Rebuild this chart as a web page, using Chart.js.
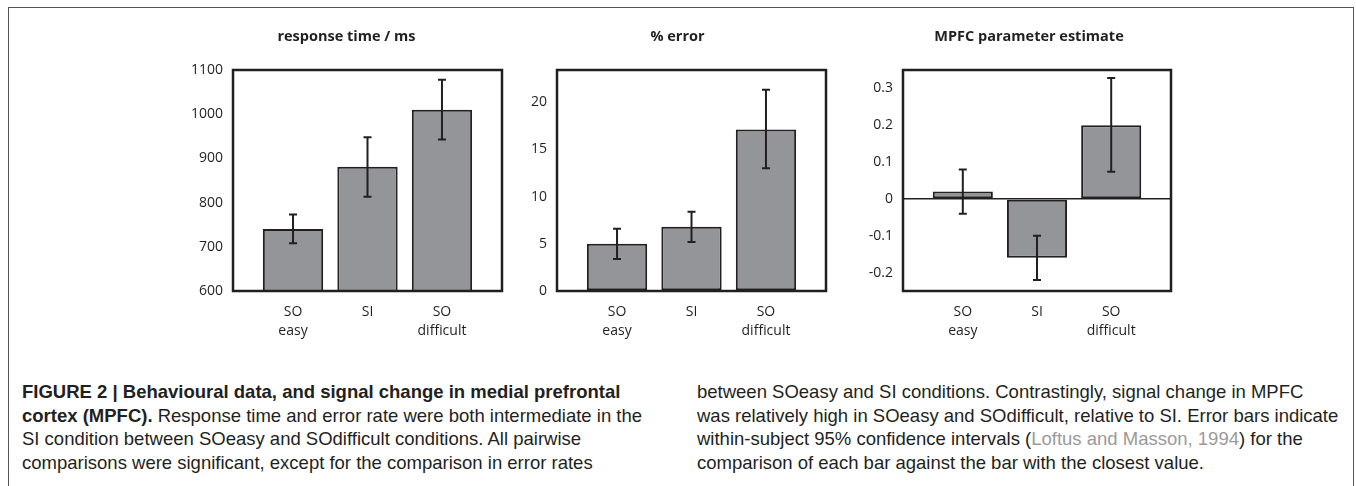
<!DOCTYPE html>
<html>
<head>
<meta charset="utf-8">
<script src="https://cdn.jsdelivr.net/npm/chart.js@4.4.0/dist/chart.umd.min.js"></script>
<style>
  body { margin: 0; background: #fff; width: 1356px; height: 486px; overflow: hidden; position: relative; }
  #frame { position: absolute; left: 8px; top: 7px; width: 1346px; height: 500px; border: 1px solid #555; box-sizing: border-box; }
  .panel { position: absolute; top: 0; }
  .caption { position: absolute; top: 380px; font-family: "Liberation Sans", Arial, sans-serif; font-size: 18.5px; line-height: 23.5px; color: #231f20; white-space: nowrap; }
  .ref { color: #9a9a9a; }
</style>
</head>
<body>
<div id="frame"></div>
<div class="panel" style="left:150px"><canvas id="rt" width="362" height="345"></canvas></div>
<div class="panel" style="left:480px"><canvas id="err" width="356" height="345"></canvas></div>
<div class="panel" style="left:820px"><canvas id="mpfc" width="361" height="345"></canvas></div>

<div class="caption" style="left:22px">
  <b>FIGURE 2 | Behavioural data, and signal change in medial prefrontal</b><br>
  <b>cortex (MPFC).</b> Response time and error rate were both intermediate in the<br>
  SI condition between SOeasy and SOdifficult conditions. All pairwise<br>
  comparisons were significant, except for the comparison in error rates
</div>
<div class="caption" style="left:697px">
  between SOeasy and SI conditions. Contrastingly, signal change in MPFC<br>
  was relatively high in SOeasy and SOdifficult, relative to SI. Error bars indicate<br>
  within-subject 95% confidence intervals (<span class="ref">Loftus and Masson, 1994</span>) for the<br>
  comparison of each bar against the bar with the closest value.
</div>

<script>
// Data
const conditions = [['SO', 'easy'], ['SI'], ['SO', 'difficult']];

const rtValues = [740, 881, 1010];
const rtLow = [708, 813, 943];
const rtHigh = [773, 948, 1078];
const rtTicks = [600, 700, 800, 900, 1000, 1100];

const errValues = [5.0, 6.8, 17.1];
const errLow = [3.4, 5.2, 13.0];
const errHigh = [6.6, 8.4, 21.3];
const errTicks = [0, 5, 10, 15, 20];

const mpfcValues = [0.02, -0.16, 0.2];
const mpfcLow = [-0.04, -0.22, 0.074];
const mpfcHigh = [0.08, -0.1, 0.328];
const mpfcTicks = [-0.2, -0.1, 0, 0.1, 0.2, 0.3];

const INK = '#231f20';
const BAR_GREY = '#939598';
const tickFont = { family: '"Open Sans", sans-serif', size: 14, lineHeight: 1.35 };

// frame round the plot area
const framePlugin = {
    id: 'frame',
    afterDraw(chart) {
        const a = chart.chartArea;
        const ctx = chart.ctx;
        ctx.save();
        ctx.strokeStyle = INK;
        ctx.lineWidth = 2.5;
        ctx.strokeRect(a.left, a.top, a.right - a.left, a.bottom - a.top);
        ctx.restore();
    }
};

// panel title, a little left of the plot centre as in the figure
const panelTitlePlugin = {
    id: 'panelTitle',
    afterDraw(chart, args, opts) {
        const a = chart.chartArea;
        const ctx = chart.ctx;
        ctx.save();
        ctx.fillStyle = INK;
        ctx.font = 'bold 14.5px "Open Sans", sans-serif';
        ctx.textAlign = 'center';
        ctx.textBaseline = 'middle';
        ctx.fillText(opts.text, (a.left + a.right) / 2 + opts.shift, 37);
        ctx.restore();
    }
};

// error bars from the low/high arrays
const errorBarPlugin = {
    id: 'errorBars',
    afterDatasetsDraw(chart, args, opts) {
        const ctx = chart.ctx;
        const x = chart.scales.x;
        const y = chart.scales.y;
        ctx.save();
        ctx.strokeStyle = INK;
        ctx.lineWidth = 2;
        opts.low.forEach((lo, i) => {
            const px = x.getPixelForValue(i);
            const y1 = y.getPixelForValue(lo);
            const y2 = y.getPixelForValue(opts.high[i]);
            ctx.beginPath();
            ctx.moveTo(px, y1); ctx.lineTo(px, y2);
            ctx.moveTo(px - 4, y1); ctx.lineTo(px + 4, y1);
            ctx.moveTo(px - 4, y2); ctx.lineTo(px + 4, y2);
            ctx.stroke();
        });
        ctx.restore();
    }
};

function makePanel(id, title, titleShift, values, low, high, yMin, yMax, yTicks, axisWidth, zeroLine) {
    const ctx = document.getElementById(id).getContext('2d');
    return new Chart(ctx, {
        type: 'bar',
        data: {
            datasets: [{
                data: values.map((v, i) => ({ x: i, y: v })),
                backgroundColor: BAR_GREY,
                borderColor: INK,
                borderWidth: 2,
                borderSkipped: false,
                barPercentage: 0.81,
                categoryPercentage: 1
            }]
        },
        options: {
            responsive: false,
            animation: false,
            layout: { padding: { left: 0, right: 10, top: 70, bottom: 0 } },
            plugins: {
                legend: { display: false },
                tooltip: { enabled: false },
                title: { display: false },
                panelTitle: { text: title, shift: titleShift },
                errorBars: { low, high }
            },
            scales: {
                x: {
                    type: 'linear',
                    offset: false,
                    min: -0.806,
                    max: 2.806,
                    afterBuildTicks: s => { s.ticks = conditions.map((c, i) => ({ value: i })); },
                    afterFit: s => { s.height = 54; },
                    grid: { display: false, drawTicks: false },
                    border: { display: false },
                    ticks: {
                        autoSkip: false,
                        maxRotation: 0,
                        padding: 12,
                        color: INK,
                        font: tickFont,
                        callback: v => conditions[v]
                    }
                },
                y: {
                    min: yMin,
                    max: yMax,
                    afterBuildTicks: s => { s.ticks = yTicks.map(v => ({ value: v })); },
                    afterFit: s => { s.width = axisWidth; },
                    grid: {
                        drawTicks: false,
                        lineWidth: 1.5,
                        color: c => (zeroLine && c.tick && c.tick.value === 0) ? INK : 'rgba(0,0,0,0)'
                    },
                    border: { display: false },
                    ticks: {
                        padding: 10,
                        color: INK,
                        font: tickFont,
                        callback: v => String(v)
                    }
                }
            }
        },
        plugins: [errorBarPlugin, framePlugin, panelTitlePlugin]
    });
}

makePanel('rt', 'response time / ms', -21, rtValues, rtLow, rtHigh, 600, 1100, rtTicks, 83, false);
makePanel('err', '% error', -14, errValues, errLow, errHigh, 0, 23.4, errTicks, 77, false);
makePanel('mpfc', 'MPFC parameter estimate', -8, mpfcValues, mpfcLow, mpfcHigh, -0.25, 0.35, mpfcTicks, 83, true);
</script>
</body>
</html>
